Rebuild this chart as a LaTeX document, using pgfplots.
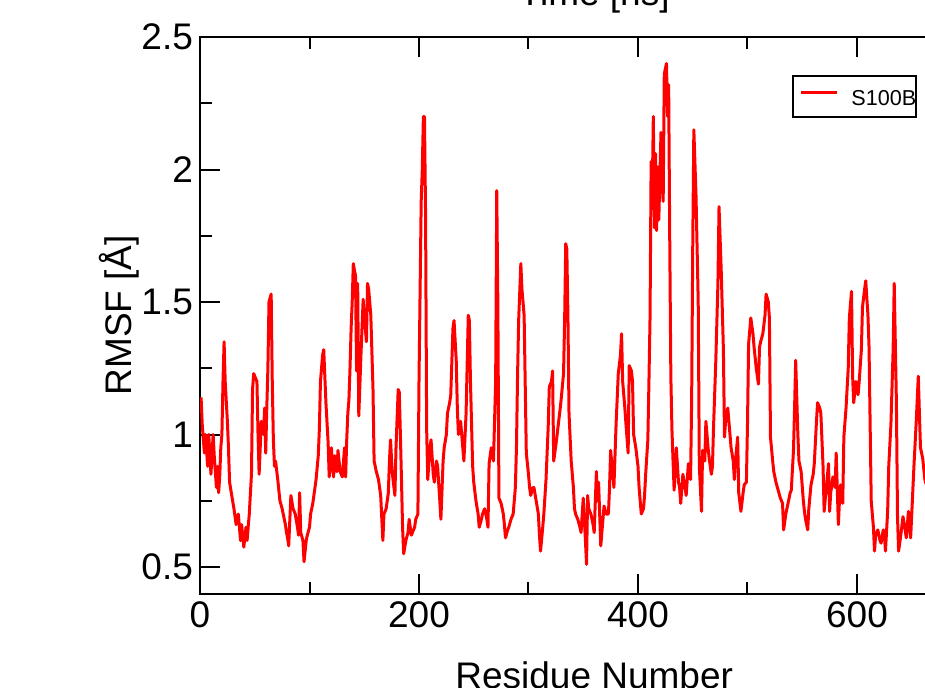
\documentclass[border=0pt]{standalone}
\usepackage{fontspec}
\setmainfont{Liberation Sans}
\usepackage{pgfplots}
\pgfplotsset{compat=1.18}
\pgfplotstableread{
r v
1 1.14
2 1.04
4 0.93
5 1.0
7 0.88
8 1.0
10 0.85
12 1.0
13 0.92
15 0.8
16 0.88
17 0.78
18 0.84
19 0.95
20 1.0
21 1.2
22 1.35
23 1.2
25 1.05
26 0.95
27 0.82
29 0.77
31 0.72
33 0.66
35 0.7
37 0.6
38 0.66
40 0.575
42 0.65
43 0.6
45 0.7
47 0.85
48 1.17
49 1.23
50 1.22
52 1.2
53 1.0
54 0.85
55 0.95
56 1.05
58 1.0
59 1.1
60 0.93
61 1.1
62 1.25
63 1.5
65 1.53
66 1.2
67 0.98
68 0.88
69 0.9
71 0.83
73 0.75
75 0.72
76 0.7
78 0.66
79 0.63
80 0.61
81 0.58
83 0.77
85 0.72
87 0.7
89 0.65
90 0.62
91 0.78
92 0.63
94 0.6
95 0.52
97 0.6
98 0.62
100 0.65
101 0.7
103 0.74
105 0.8
106 0.83
108 0.92
109 1.02
110 1.2
112 1.3
113 1.32
115 1.12
117 0.97
118 0.84
120 0.95
121 0.88
122 0.84
123 0.92
125 0.86
126 0.94
128 0.86
130 0.84
132 0.95
133 0.84
134 0.98
135 1.08
136 1.13
137 1.25
138 1.4
139 1.5
140 1.645
141 1.62
142 1.6
143 1.24
144 1.57
145 1.07
147 1.3
149 1.51
150 1.45
152 1.35
153 1.57
154 1.55
156 1.45
158 1.17
159 0.9
161 0.86
163 0.83
164 0.8
165 0.77
167 0.6
168 0.7
170 0.72
172 0.78
173 0.9
174 0.98
175 0.9
176 0.84
178 0.77
179 0.95
181 1.17
182 1.16
183 1.0
184 0.83
185 0.65
186 0.55
188 0.6
190 0.63
191 0.68
193 0.62
195 0.64
196 0.65
197 0.68
199 0.7
200 1.2
202 1.88
203 2.0
204 2.2
205 2.2
206 1.83
207 1.02
208 0.83
210 0.95
211 0.98
213 0.85
214 0.82
216 0.9
217 0.88
219 0.75
220 0.68
222 0.9
223 0.95
225 1.0
226 1.08
228 1.12
229 1.15
231 1.4
232 1.43
234 1.28
235 1.1
236 1.0
237 1.02
238 1.05
240 0.95
241 0.9
243 1.08
245 1.45
246 1.43
247 1.2
249 0.88
250 0.82
252 0.75
254 0.7
255 0.65
257 0.68
258 0.7
260 0.72
262 0.68
263 0.65
264 0.89
266 0.95
268 0.9
269 1.05
270 1.2
271 1.92
272 1.5
273 0.76
275 0.74
277 0.7
278 0.66
279 0.61
281 0.64
282 0.65
284 0.68
286 0.7
288 0.8
289 0.95
290 1.22
291 1.43
293 1.645
294 1.55
296 1.45
298 0.93
300 0.85
301 0.8
302 0.77
304 0.8
305 0.8
307 0.75
309 0.7
310 0.62
311 0.56
313 0.65
314 0.7
316 0.83
318 1.03
319 1.18
321 1.2
322 1.24
323 0.9
325 0.96
327 1.03
329 1.1
330 1.14
332 1.23
333 1.43
334 1.72
335 1.7
336 1.45
337 1.08
339 0.9
341 0.8
342 0.72
343 0.7
345 0.68
347 0.65
348 0.63
350 0.76
352 0.6
353 0.51
354 0.77
355 0.72
357 0.7
359 0.66
360 0.63
362 0.86
363 0.75
364 0.82
366 0.58
368 0.68
369 0.73
371 0.7
373 0.7
374 0.8
375 0.94
377 0.85
378 0.8
380 1.04
382 1.23
384 1.3
385 1.38
386 1.2
388 1.1
389 1.04
391 0.93
392 1.26
394 1.24
395 1.2
396 1.0
398 0.95
400 0.88
401 0.8
403 0.7
405 0.72
406 0.77
407 0.85
409 0.98
410 1.2
411 1.44
412 2.03
413 1.9
414 2.2
415 1.78
416 2.06
417 1.77
418 2.01
419 1.81
421 2.14
422 1.95
423 1.88
424 2.36
426 2.40
427 2.2
428 2.32
429 1.73
430 1.22
431 1.02
432 0.9
433 0.79
435 0.95
437 0.82
438 0.8
439 0.74
441 0.85
443 0.8
444 0.77
446 0.89
447 0.85
448 0.83
449 1.13
450 1.71
451 2.15
453 1.9
455 1.5
456 0.88
458 0.71
459 0.94
461 0.9
462 1.05
464 0.95
465 0.91
467 0.85
468 0.88
469 1.03
471 1.27
473 1.57
474 1.86
476 1.62
478 1.32
479 0.99
480 1.05
482 1.1
484 1.0
485 0.95
487 0.9
488 0.83
489 0.9
491 0.99
492 0.78
494 0.71
496 0.78
497 0.81
499 0.82
500 1.04
501 1.34
503 1.44
505 1.38
506 1.33
508 1.25
510 1.19
511 1.33
512 1.35
514 1.38
516 1.45
517 1.53
519 1.5
520 1.44
521 0.99
523 0.9
524 0.86
526 0.82
528 0.79
530 0.76
532 0.74
533 0.64
535 0.7
537 0.74
539 0.78
540 0.79
542 0.94
543 1.1
544 1.28
546 1.0
547 0.9
549 0.86
551 0.75
552 0.71
553 0.68
555 0.64
556 0.72
558 0.81
560 0.85
561 0.89
563 1.05
564 1.12
566 1.1
567 1.08
569 0.88
570 0.71
572 0.8
574 0.89
575 0.71
576 0.78
578 0.84
580 0.8
581 0.93
583 0.66
584 0.75
585 0.81
587 0.74
588 0.99
590 1.1
592 1.25
593 1.44
595 1.54
596 1.22
597 1.12
599 1.2
601 1.15
602 1.2
604 1.32
605 1.48
607 1.55
608 1.58
610 1.45
611 1.33
613 0.75
615 0.65
616 0.56
617 0.62
619 0.64
621 0.6
622 0.59
624 0.64
625 0.62
626 0.56
628 0.71
629 0.88
631 1.04
633 1.32
634 1.57
636 1.12
637 0.69
638 0.56
640 0.62
642 0.69
644 0.64
645 0.61
647 0.71
648 0.65
649 0.61
651 0.79
652 0.88
654 1.04
656 1.22
657 1.08
658 0.95
660 0.91
662 0.83
664 0.8
666 0.82
668 0.86
670 0.8
}\rmsf
\begin{document}
\begin{tikzpicture}
\begin{scope}
\clip (0,0) rectangle (462.5pt,343.5pt);
\begin{axis}[
  at={(100pt,46.75pt)}, anchor=south west,
  scale only axis,
  width=394.2pt, height=278.25pt,
  xmin=0, xmax=720, ymin=0.4, ymax=2.5,
  xtick={0,200,400,600}, minor xtick={100,300,500,700},
  ytick={0.5,1,1.5,2,2.5}, minor ytick={0.75,1.25,1.75,2.25},
  tick align=inside,
  major tick length=10pt, minor tick length=6pt,
  every tick/.style={black, line width=1pt},
  axis line style={line width=1pt},
  /pgf/number format/assume math mode=true,
  tick label style={font=\fontsize{18.5}{20}\selectfont},
  xticklabel style={anchor=base, yshift=-17pt},
  label style={font=\fontsize{18.5}{20}\selectfont},
  xlabel={Residue Number},
  xlabel style={at={(axis description cs:0.5,0)}, anchor=base, yshift=-47.5pt},
  ylabel={RMSF [Å]},
  ylabel style={at={(axis description cs:-0.0863,0.5)}, anchor=base, rotate=0},
  title={Time [ns]},
  title style={font=\fontsize{18.5}{20}\selectfont, at={(axis description cs:0.5,1)}, anchor=base, yshift=10pt},
  legend style={at={(axis cs:541,2.355)}, anchor=north west, draw=black, line width=1pt,
    inner xsep=0pt, inner ysep=4.5pt, font=\fontsize{10.8}{12}\selectfont,
    nodes={inner sep=0pt}},
  legend image code/.code={\path[draw=none] (0pt,0pt) rectangle (29pt,0.7em); \draw[red, line width=1.5pt] (4pt,0.35em) -- (22pt,0.35em);},
]
\addplot[red, line width=1.5pt, line join=round] table[x=r, y=v] {\rmsf};
\addlegendentry{S100B\hspace{0.5pt}}
\end{axis}
\end{scope}
\pgfresetboundingbox
\useasboundingbox (0,0) rectangle (462.5pt,343.5pt);
\end{tikzpicture}
\end{document}
